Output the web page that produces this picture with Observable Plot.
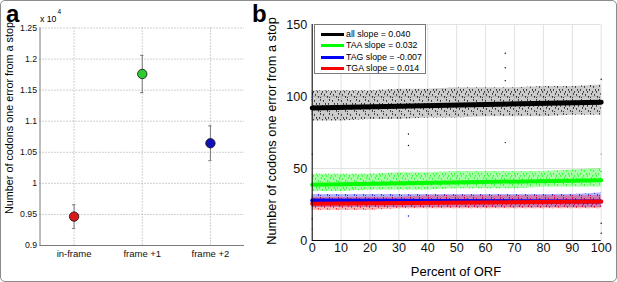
<!DOCTYPE html>
<html><head><meta charset="utf-8">
<script src="https://cdn.jsdelivr.net/npm/d3@7"></script>
<script src="https://cdn.jsdelivr.net/npm/@observablehq/plot@0.6"></script>
<style>
html,body{margin:0;padding:0;background:#fff;}
#fig{position:relative;width:617px;height:282px;overflow:hidden;background:#fff;font-family:"Liberation Sans",Arial,sans-serif;}
.abs{position:absolute;white-space:nowrap;}
#border{position:absolute;left:0;top:0;width:617px;height:282px;box-sizing:border-box;border:1.5px solid #8c8c8c;border-radius:5px;pointer-events:none;}
</style></head>
<body><div id="fig"></div>
<script>
// ---------- Panel a data ----------
const categories = ["in-frame", "frame +1", "frame +2"];
const meansA = [0.9465, 1.176, 1.0645];      // x 10^4
const errorsA = [0.019, 0.030, 0.028];        // x 10^4
const colorsA = ["#d91a1a", "#2fcc2f", "#1111b8"];
const yTicksA = [0.9, 0.95, 1, 1.05, 1.1, 1.15, 1.2, 1.25];

// ---------- Panel b data ----------
const xTicksB = [0, 10, 20, 30, 40, 50, 60, 70, 80, 90, 100];
const yTicksB = [0, 50, 100, 150];
const bandX = [0, 10, 20, 30, 40, 50, 60, 70, 80, 90, 100];
const allHi = [104, 104, 104, 105, 105, 106, 106, 106, 107, 107, 108];
const allLo = [83, 83, 84, 84, 85, 85, 86, 86, 86, 87, 87];
const taaHi = [46, 46, 46, 47, 47, 48, 48, 48, 48, 49, 50];
const taaLo = [34, 34, 35, 35, 35, 36, 36, 36, 37, 37, 37];
const tagHi = [32, 32, 32, 32, 32, 32, 32, 32, 32, 32, 33];
const tagLo = [23, 23, 23, 23, 23, 23, 23, 23, 23, 23, 23];
const tgaHi = [30, 30, 30, 30, 31, 31, 31, 31, 31, 31, 31];
const tgaLo = [21, 21, 21, 22, 22, 22, 22, 22, 22, 22, 22];
const trendX = [0, 100];
const allTrend = [92, 96];
const taaTrend = [38.7, 41.9];
const tagTrend = [27.8, 27.1];
const tgaTrend = [25.6, 27.0];
const outlierX = [66.8, 66.8, 66.8, 66.8, 33.3, 33.3, 33.3, 100, 100, 100, 100, 100, 0, 0, 0];
const outlierY = [130, 120, 111, 68, 74, 66, 17, 112, 60, 48, 12, 5, 15, 8, 60];
const outlierC = ["#000", "#000", "#000", "#000", "#000", "#000", "#0000ff", "#000", "#00dd00", "#00dd00", "#000", "#000", "#0000ff", "#00dd00", "#0000ff"];
const legendLabels = ["all slope = 0.040", "TAA slope = 0.032", "TAG slope = -0.007", "TGA slope = 0.014"];
const seriesColors = ["#000000", "#00ff00", "#0000ff", "#ff0000"];
const seriesKeys = ["all", "taa", "tag", "tga"];

const fig = document.getElementById("fig");
const font = '"Liberation Sans", Arial, sans-serif';

// ---------- Panel a ----------
const dataA = categories.map((c, i) => ({idx: i + 1, cat: c, mean: meansA[i], err: errorsA[i], color: colorsA[i]}));
const grid = {stroke: "#8a8a8a", strokeOpacity: 1, strokeDasharray: "1,2", strokeWidth: 0.8};
const capHalf = 0.025;
const plotA = Plot.plot({
  width: 250, height: 282,
  marginLeft: 39.5, marginRight: 6, marginTop: 27.5, marginBottom: 37,
  style: {fontFamily: font, fontSize: "8.7px", color: "#111", background: "transparent"},
  x: {domain: [0.5, 3.5], axis: null},
  y: {domain: [0.9, 1.25], axis: null},
  marks: [
    Plot.gridY(yTicksA, grid),
    Plot.gridX([1, 2, 3], grid),
    Plot.ruleX([0.5], {stroke: "#7a7a7a"}),
    Plot.ruleY([0.9], {stroke: "#7a7a7a"}),
    Plot.axisY(yTicksA, {tickSize: 0, tickPadding: 3, tickFormat: d => String(+d.toFixed(2)), label: null}),
    Plot.axisX([1, 2, 3], {tickSize: 0, tickPadding: 5, tickFormat: d => categories[d - 1], label: null, fontSize: "9.5px"}),
    Plot.ruleX(dataA, {x: "idx", y1: d => d.mean - d.err, y2: d => d.mean + d.err, stroke: "#7a7a7a", strokeWidth: 1}),
    Plot.ruleY(dataA, {x1: d => d.idx - capHalf, x2: d => d.idx + capHalf, y: d => d.mean - d.err, stroke: "#7a7a7a"}),
    Plot.ruleY(dataA, {x1: d => d.idx - capHalf, x2: d => d.idx + capHalf, y: d => d.mean + d.err, stroke: "#7a7a7a"}),
    Plot.dot(dataA, {x: "idx", y: "mean", r: 4.7, fill: "color", stroke: "#111", strokeWidth: 0.8})
  ]
});
plotA.style.position = "absolute"; plotA.style.left = "0px"; plotA.style.top = "0px";
fig.appendChild(plotA);

// ---------- Panel b ----------
const band = (hi, lo) => bandX.map((x, i) => ({x, hi: hi[i], lo: lo[i]}));
const trend = (v) => trendX.map((x, i) => ({x, y: v[i]}));
const outliers = outlierX.map((x, i) => ({x, y: outlierY[i], c: outlierC[i]}));
const gridB = {stroke: "#e2e2e2", strokeOpacity: 1, strokeWidth: 1};
const bands = [band(allHi, allLo), band(taaHi, taaLo), band(tagHi, tagLo), band(tgaHi, tgaLo)];
const baseOpacity = [0.2, 0.35, 0.3, 0.3];
const bandMarks = [];
bands.forEach((b, i) => {
  bandMarks.push(Plot.areaY(b, {x: "x", y1: "lo", y2: "hi", fill: seriesColors[i], fillOpacity: baseOpacity[i]}));
  bandMarks.push(Plot.areaY(b, {x: "x", y1: "lo", y2: "hi", fill: `url(#speck-${seriesKeys[i]})`}));
});
const plotB = Plot.plot({
  width: 367, height: 282,
  marginLeft: 61.7, marginRight: 16.3, marginTop: 24, marginBottom: 42,
  style: {fontFamily: font, fontSize: "12.6px", color: "#111", background: "transparent"},
  x: {domain: [0, 100], axis: null},
  y: {domain: [0, 150], axis: null},
  marks: [
    Plot.gridX(xTicksB, gridB),
    Plot.gridY(yTicksB, gridB),
    ...bandMarks,
    Plot.dot(outliers, {x: "x", y: "y", r: 0.7, fill: "c", stroke: null}),
    Plot.line(trend(allTrend), {x: "x", y: "y", stroke: seriesColors[0], strokeWidth: 5}),
    Plot.line(trend(taaTrend), {x: "x", y: "y", stroke: seriesColors[1], strokeWidth: 4}),
    Plot.line(trend(tagTrend), {x: "x", y: "y", stroke: seriesColors[2], strokeWidth: 4}),
    Plot.line(trend(tgaTrend), {x: "x", y: "y", stroke: seriesColors[3], strokeWidth: 4}),
    Plot.ruleX([0], {stroke: "#000"}),
    Plot.ruleY([0], {stroke: "#000"}),
    Plot.axisY(yTicksB, {tickSize: 0, tickPadding: 5, label: null}),
    Plot.axisX(xTicksB, {tickSize: 0, tickPadding: 3, label: null})
  ]
});
// speckle texture patterns (style only)
const specks = [[1,2],[4,7],[7,1],[2,10],[6,5],[8,9],[3,5],[5,12],[0,7],[7,13]];
const defs = d3.select(plotB).insert("defs", ":first-child");
seriesKeys.forEach((k, i) => {
  const p = defs.append("pattern").attr("id", `speck-${k}`).attr("patternUnits", "userSpaceOnUse")
    .attr("width", 9).attr("height", 14);
  specks.forEach(([sx, sy]) => p.append("rect").attr("x", sx).attr("y", sy).attr("width", 0.9).attr("height", 1.8)
    .attr("fill", seriesColors[i]).attr("fill-opacity", 0.8));
});
plotB.style.position = "absolute"; plotB.style.left = "250px"; plotB.style.top = "0px";
fig.appendChild(plotB);

// ---------- Text overlays ----------
function addText(txt, css) {
  const d = document.createElement("div");
  d.className = "abs"; d.textContent = txt;
  Object.assign(d.style, css);
  fig.appendChild(d);
  return d;
}
addText("a", {left: "6px", top: "-1px", fontSize: "24px", fontWeight: "bold", lineHeight: "30px"});
addText("b", {left: "252px", top: "-1px", fontSize: "24px", fontWeight: "bold", lineHeight: "30px"});
addText("x 10", {left: "40px", top: "14px", fontSize: "8.7px", lineHeight: "10px"});
addText("4", {left: "57.5px", top: "8px", fontSize: "6.5px", lineHeight: "8px"});
addText("Number of codons one error from a stop", {left: "9px", top: "118px", fontSize: "10.8px", lineHeight: "12px", transform: "translate(-50%,-50%) rotate(-90deg)"});
addText("Number of codons one error from a stop", {left: "272px", top: "131px", fontSize: "12.8px", lineHeight: "14px", transform: "translate(-50%,-50%) rotate(-90deg)"});
addText("Percent of ORF", {left: "456px", top: "264px", fontSize: "13px", lineHeight: "15px", transform: "translateX(-50%)"});

// legend
const leg = document.createElement("div");
Object.assign(leg.style, {position: "absolute", left: "314px", top: "24px", width: "112px", height: "50px", boxSizing: "border-box", border: "1px solid #7a7a7a", background: "#fff"});
fig.appendChild(leg);
const rowY = [9, 20, 32, 43];
legendLabels.forEach((lab, i) => {
  const ln = document.createElement("div");
  Object.assign(ln.style, {position: "absolute", left: "6px", width: "23px", top: (rowY[i] - 1.5) + "px", height: "3px", background: seriesColors[i]});
  leg.appendChild(ln);
  const t = document.createElement("div");
  t.textContent = lab;
  Object.assign(t.style, {position: "absolute", left: "31px", top: (rowY[i] - 6) + "px", fontSize: "8.8px", lineHeight: "12px", whiteSpace: "nowrap"});
  leg.appendChild(t);
});

const br = document.createElement("div"); br.id = "border"; fig.appendChild(br);
</script></body></html>
